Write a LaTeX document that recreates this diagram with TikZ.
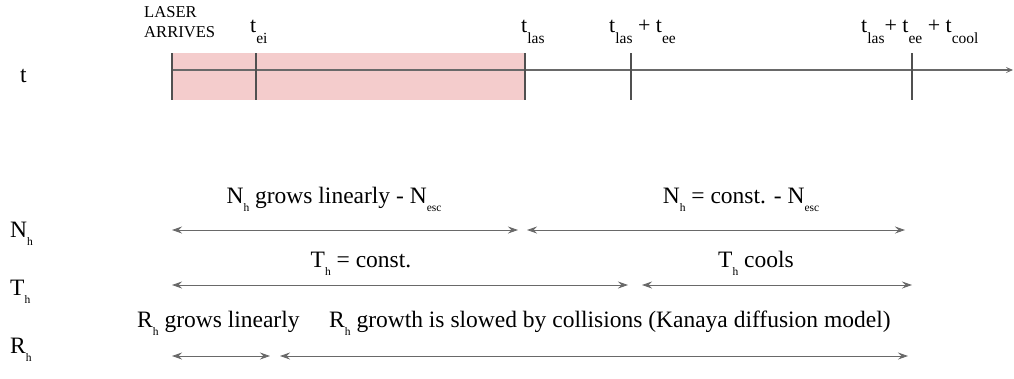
\documentclass[tikz,border=0pt]{standalone}
\usepackage{fontspec}
\setmainfont{Liberation Serif}
\usetikzlibrary{positioning,calc}
\usetikzlibrary{arrows.meta}
\definecolor{PulsePink}{RGB}{244,204,204}
\definecolor{AxisGray}{RGB}{105,105,105}
\definecolor{TickGray}{RGB}{80,80,80}
\newcommand{\hsub}[1]{\raisebox{-0.36em}{\fontsize{11.5}{11.5}\selectfont #1}}
\newcommand{\tsub}[1]{\raisebox{-0.5em}{\fontsize{15.5}{15.5}\selectfont #1}}
\tikzset{
	tick/.style={draw=TickGray,line width=1.7pt},
	span/.style={draw=AxisGray,line width=0.9pt,{Stealth[length=10pt,width=7pt,inset=3.5pt]}-{Stealth[length=10pt,width=7pt,inset=3.5pt]}},
	lbl/.style={font=\fontsize{23.5}{23.5}\selectfont,inner sep=0pt,anchor=base},
	rowlbl/.style={lbl,anchor=base west},
	tlbl/.style={font=\fontsize{22}{22}\selectfont,inner sep=0pt,anchor=base west},
	caps/.style={font=\fontsize{16.6}{16.6}\selectfont,inner sep=0pt,anchor=base west},
}
\begin{document}
\begin{tikzpicture}[x=1pt,y=-1pt]
	\useasboundingbox (0,0) rectangle (1014,378);
	% laser pulse
	\fill[PulsePink] (172,53) rectangle (525,100);
	\coordinate (start) at (172,70);
	\coordinate (end) at (1013,70);
	\draw[draw=AxisGray,line width=1.2pt,-{Stealth[length=7pt,width=6pt,inset=3pt]}] (start) -- (end);
	\foreach \n/\x in {laser/172,ei/256,las/525,ee/631,cool/912}
		\draw[tick] (\x,53) coordinate (\n) -- (\x,100);
	% time labels
	\node[caps] (laser) at (144,17) {LASER};
	\node[caps] (arrives) at (144,37) {ARRIVES};
	\node[tlbl] (tei) at (250,32) {t\tsub{ei}};
	\node[tlbl] (tlas) at (521,32) {t\tsub{las}};
	\node[tlbl] (tee) at (609,32) {t\tsub{las} + t\tsub{ee}};
	\node[tlbl] (tcool) at (861,32) {t\tsub{las}+ t\tsub{ee} + t\tsub{cool}};
	% row labels
	\node[rowlbl] (trow) at (20,82) {t};
	\node[rowlbl] (nrow) at (10,237) {N\hsub{h}};
	\node[rowlbl] (Trow) at (10,295) {T\hsub{h}};
	\node[rowlbl] (rrow) at (10,353) {R\hsub{h}};
	% spans
	\foreach \n/\x in {a/172,b/518,c/527,d/905}
		\coordinate (n\n) at (\x,230);
	\foreach \n/\x in {a/172,b/628,c/642,d/912}
		\coordinate (T\n) at (\x,285);
	\foreach \n/\x in {a/172,b/270,c/280,d/908}
		\coordinate (r\n) at (\x,356);
	\foreach \p/\q in {na/nb,nc/nd,Ta/Tb,Tc/Td,ra/rb,rc/rd}
		\draw[span] (\p) -- (\q);
	\node[lbl] (ngrow) at (334,203) {N\hsub{h} grows linearly - N\hsub{esc}};
	\node[lbl] (nconst) at (741,203) {N\hsub{h} = const. - N\hsub{esc}};
	\node[lbl] (Tconst) at (361,267) {T\hsub{h} = const.};
	\node[lbl] (Tcool) at (756,267) {T\hsub{h} cools};
	\node[rowlbl] (rgrow) at (137,327) {R\hsub{h} grows linearly};
	\node[rowlbl] (rslow) at (329,327) {R\hsub{h} growth is slowed by collisions (Kanaya diffusion model)};
\end{tikzpicture}
\end{document}
